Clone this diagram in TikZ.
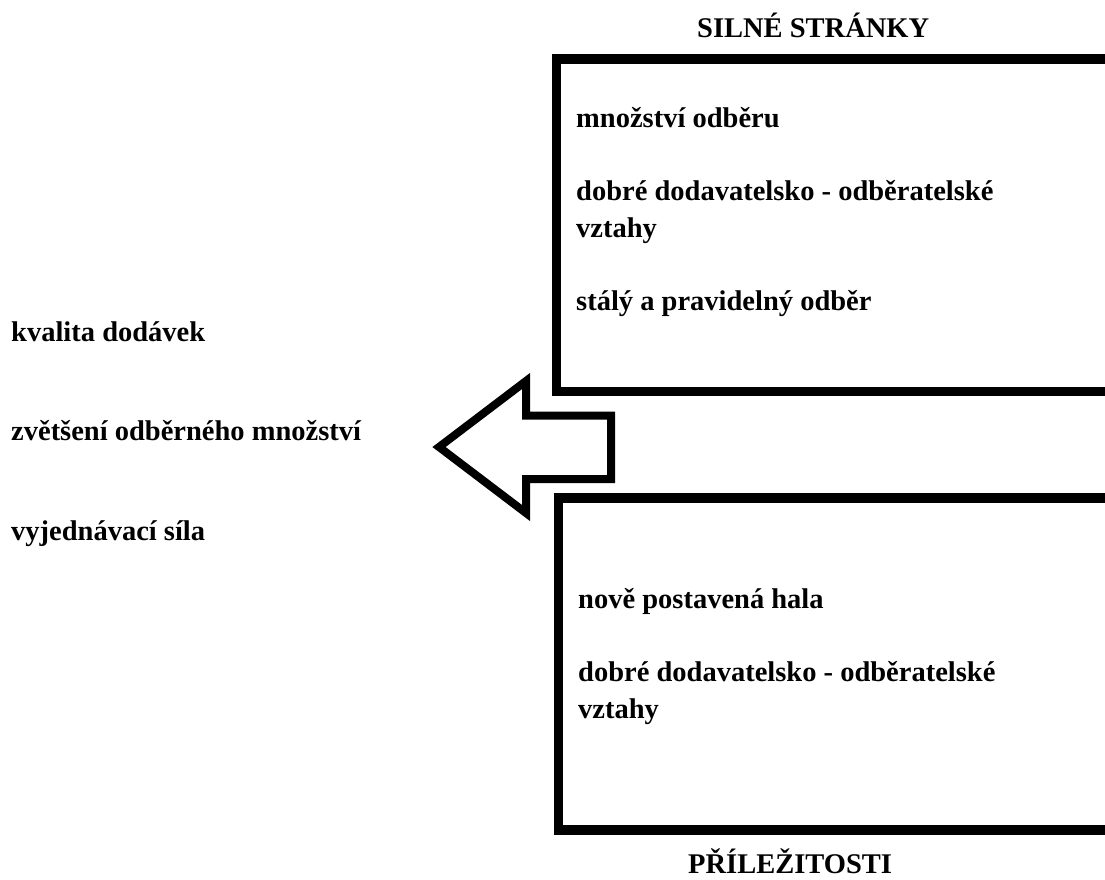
\documentclass[tikz,border=0pt]{standalone}
\usepackage{fontspec}
\setmainfont{Liberation Serif}
\begin{document}
\begin{tikzpicture}[x=1pt,y=-1pt,
  label/.style={font=\bfseries\fontsize{28.5}{36.5}\selectfont, inner sep=0pt, anchor=base west, align=left},
  frame/.style={draw=black, line width=9.5pt},
  bigarrow/.style={draw=black, line width=8pt, line join=miter, miter limit=10}]
  \useasboundingbox (0,0) rectangle (1105,879);
  \clip (0,0) rectangle (1105,879);

  % strengths and opportunities frames (open to the right)
  \draw[frame] (1120,59) -- (556.5,59) -- (556.5,391.5) -- (1120,391.5);
  \draw[frame] (1120,498) -- (558.5,498) -- (558.5,830) -- (1120,830);

  % block arrow pointing left
  \draw[bigarrow] (439,447) -- (526,381) -- (526,415.5) -- (611,415.5)
    -- (611,479) -- (526,479) -- (526,513) -- cycle;

  % headings
  \node[label] (sHead) at (697,37) {SILNÉ STRÁNKY};
  \node[label] (oHead) at (688,873) {PŘÍLEŽITOSTI};

  % strengths (multi-line nodes sit on the baseline of their last line)
  \node[label] (s1) at (576,127) {množství odběru};
  \node[label] (s2) at (576,237) {dobré dodavatelsko - odběratelské\\vztahy};
  \node[label] (s3) at (576,310) {stálý a pravidelný odběr};

  % opportunities
  \node[label] (o1) at (578,608) {nově postavená hala};
  \node[label] (o2) at (578,718) {dobré dodavatelsko - odběratelské\\vztahy};

  % outcomes
  \node[label] (r1) at (11,341) {kvalita dodávek};
  \node[label] (r2) at (11,440) {zvětšení odběrného množství};
  \node[label] (r3) at (11,540) {vyjednávací síla};
\end{tikzpicture}
\end{document}
